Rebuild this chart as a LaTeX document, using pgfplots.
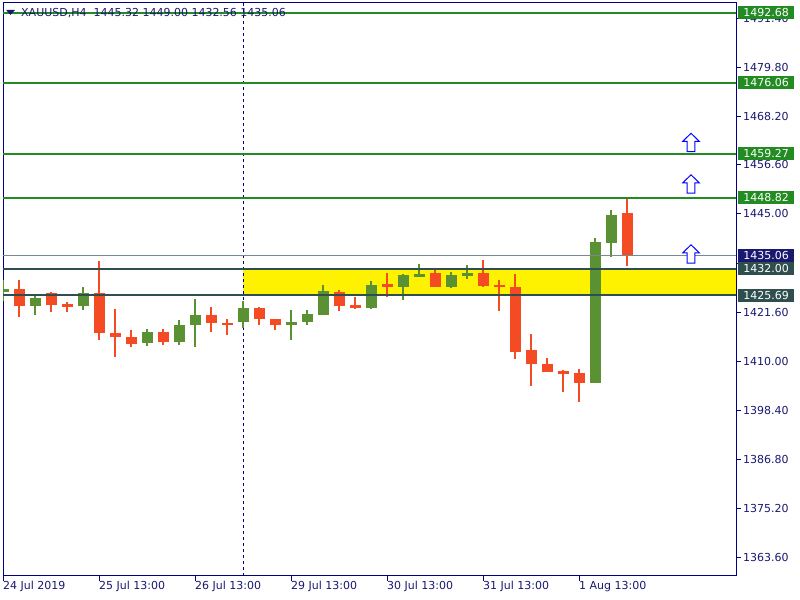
\documentclass[border=0pt]{standalone}
\usepackage{pgfplots}
\pgfplotsset{compat=1.18}
\usepackage{pgfplotstable}
\usepackage{fontspec}
\setmainfont{DejaVu Sans}
\newcommand\fs{\fontsize{11bp}{13bp}\selectfont}
\definecolor{cgreen}{RGB}{90,145,50}
\definecolor{cred}{RGB}{244,75,36}
\definecolor{lgreen}{RGB}{34,139,34}
\definecolor{dslate}{RGB}{47,79,79}
\definecolor{sgray}{RGB}{119,136,153}
\definecolor{mnavy}{RGB}{25,25,112}
\definecolor{fnavy}{RGB}{0,0,128}
\pgfdeclareplotmark{uparr}{%
 \pgfpathmoveto{\pgfqpoint{0pt}{9.2pt}}%
 \pgfpathlineto{\pgfqpoint{8.3pt}{1.2pt}}%
 \pgfpathlineto{\pgfqpoint{3.9pt}{1.2pt}}%
 \pgfpathlineto{\pgfqpoint{3.9pt}{-9.2pt}}%
 \pgfpathlineto{\pgfqpoint{-3.9pt}{-9.2pt}}%
 \pgfpathlineto{\pgfqpoint{-3.9pt}{1.2pt}}%
 \pgfpathlineto{\pgfqpoint{-8.3pt}{1.2pt}}%
 \pgfpathclose
 \pgfusepathqfillstroke}
\pgfplotstableread{
k o h l c
0 1426.38 1429.39 1424.25 1427.26
2 1423.07 1425.83 1421.10 1425.12
5 1423.07 1427.73 1422.28 1426.31
9 1414.31 1417.79 1413.60 1417.08
11 1414.54 1419.92 1413.83 1418.73
12 1418.57 1424.89 1413.36 1421.10
15 1419.28 1424.41 1417.86 1422.76
18 1418.57 1422.28 1415.02 1419.44
19 1419.28 1422.28 1418.57 1421.34
20 1421.10 1428.20 1420.94 1426.78
23 1422.76 1429.15 1422.52 1428.20
25 1427.73 1430.80 1424.65 1430.57
26 1430.33 1433.17 1430.10 1430.57
28 1427.73 1431.28 1427.49 1430.57
29 1430.33 1432.94 1429.62 1431.04
37 1404.84 1439.33 1404.84 1438.38
38 1438.21 1445.95 1434.90 1444.77
}\up
\pgfplotstableread{
k o h l c
1 1427.26 1429.39 1420.46 1423.07
3 1426.14 1426.54 1421.65 1423.30
4 1423.47 1424.01 1421.65 1423.07
6 1426.31 1433.88 1415.18 1416.68
7 1416.84 1422.52 1410.99 1415.73
8 1415.89 1417.55 1413.36 1414.07
10 1417.08 1417.79 1413.83 1414.54
13 1421.10 1422.99 1416.91 1419.04
14 1419.21 1420.15 1416.20 1418.57
16 1422.76 1422.99 1418.57 1419.99
17 1420.15 1420.15 1417.38 1418.57
21 1426.54 1427.02 1422.05 1423.23
22 1423.47 1425.36 1422.52 1422.76
24 1428.44 1431.04 1425.36 1427.73
27 1431.04 1432.00 1427.73 1427.73
30 1431.04 1434.12 1427.73 1427.96
31 1428.20 1429.39 1421.88 1427.73
32 1427.73 1430.80 1410.52 1412.18
33 1412.82 1416.60 1404.13 1409.34
34 1409.50 1410.92 1407.44 1407.44
35 1407.61 1408.08 1402.71 1407.21
36 1407.37 1408.32 1400.34 1404.84
39 1445.32 1449.00 1432.56 1435.06
}\dn
\begin{document}
\begin{tikzpicture}[x=1bp,y=1bp]
\fill[white] (0,0) rectangle (800,600);
\begin{axis}[at={(3bp,24bp)}, anchor=south west, scale only axis,
  width=733bp, height=573bp,
  xmin=0, xmax=45.8125, ymin=1359.16, ymax=1495.0,
  axis line style={fnavy, line width=1bp},
  clip mode=individual,
  xtick={0,6,12,18,24,30,36},
  xticklabels={24 Jul 2019,25 Jul 13:00,26 Jul 13:00,29 Jul 13:00,30 Jul 13:00,31 Jul 13:00,1 Aug 13:00},
  ytick={1363.6,1375.2,1386.8,1398.4,1410,1421.6,1433.2,1445,1456.6,1468.2,1479.8,1491.4},
  yticklabels={1363.60,1375.20,1386.80,1398.40,1410.00,1421.60,{},1445.00,1456.60,1468.20,1479.80,1491.40},
  xtick pos=bottom, ytick pos=right, yticklabel pos=right,
  tick align=outside, major tick length=5bp,
  tick style={fnavy, line width=1bp},
  xticklabel style={anchor=north west, inner sep=0pt, font=\fs, text=mnavy},
  yticklabel style={anchor=west, inner sep=0pt, xshift=2bp, font=\fs, text=mnavy},
]
% yellow zone
\addplot[fill=yellow, draw=none] coordinates {(15,1425.69) (45.8125,1425.69) (45.8125,1432.00) (15,1432.00)} -- cycle;
% vertical dashed line
\addplot[fnavy, line width=1bp, dash pattern=on 3bp off 3bp] coordinates {(15,1359.16) (15,1495)};
% wicks
\addplot[draw=none, mark=none, error bars/.cd, y dir=both, y explicit, error mark=none,
  error bar style={draw=cgreen, line width=1.5bp}]
  table[x=k, y expr={(\thisrow{h}+\thisrow{l})/2}, y error expr={(\thisrow{h}-\thisrow{l})/2}] {\up};
\addplot[draw=none, mark=none, error bars/.cd, y dir=both, y explicit, error mark=none,
  error bar style={draw=cred, line width=1.5bp}]
  table[x=k, y expr={(\thisrow{h}+\thisrow{l})/2}, y error expr={(\thisrow{h}-\thisrow{l})/2}] {\dn};
% bodies
\addplot[draw=none, mark=none, error bars/.cd, y dir=both, y explicit, error mark=none,
  error bar style={draw=cgreen, line width=11bp}]
  table[x=k, y expr={(\thisrow{o}+\thisrow{c})/2}, y error expr={max(abs(\thisrow{o}-\thisrow{c})/2,0.3)}] {\up};
\addplot[draw=none, mark=none, error bars/.cd, y dir=both, y explicit, error mark=none,
  error bar style={draw=cred, line width=11bp}]
  table[x=k, y expr={(\thisrow{o}+\thisrow{c})/2}, y error expr={max(abs(\thisrow{o}-\thisrow{c})/2,0.3)}] {\dn};
% horizontal levels
\addplot[lgreen, line width=2bp] coordinates {(0,1492.68) (45.8125,1492.68)};
\addplot[lgreen, line width=2bp] coordinates {(0,1476.06) (45.8125,1476.06)};
\addplot[lgreen, line width=2bp] coordinates {(0,1459.27) (45.8125,1459.27)};
\addplot[lgreen, line width=2bp] coordinates {(0,1448.82) (45.8125,1448.82)};
\addplot[sgray, line width=1bp] coordinates {(0,1435.06) (45.8125,1435.06)};
\addplot[dslate, line width=2bp] coordinates {(0,1432.00) (45.8125,1432.00)};
\addplot[dslate, line width=2bp] coordinates {(0,1425.69) (45.8125,1425.69)};
% arrows
\addplot[only marks, mark=uparr, mark options={draw=blue, fill=white, line width=1bp}]
  coordinates {(43,1461.93) (43,1452.09) (43,1435.5)};
% title
\fill[mnavy] (axis cs:0.19,1493.35) -- (axis cs:0.75,1493.35) -- (axis cs:0.47,1492.15) -- cycle;
\node[anchor=west, inner sep=0pt, font=\fs, text=mnavy] at (axis cs:1.125,1492.62) {XAUUSD,H4\ \ 1445.32 1449.00 1432.56 1435.06};
\coordinate (b1) at (axis cs:45.8125,1492.68);
\coordinate (b2) at (axis cs:45.8125,1476.06);
\coordinate (b3) at (axis cs:45.8125,1459.27);
\coordinate (b4) at (axis cs:45.8125,1448.82);
\coordinate (b5) at (axis cs:45.8125,1435.06);
\coordinate (b6) at (axis cs:45.8125,1432.00);
\coordinate (b7) at (axis cs:45.8125,1425.69);
\end{axis}
\tikzset{pbox/.style={anchor=west, xshift=2bp, minimum width=56bp, minimum height=13bp, inner sep=0pt, text=white, font=\fs}}
\node[pbox, fill=lgreen] at (b1) {1492.68};
\node[pbox, fill=lgreen] at (b2) {1476.06};
\node[pbox, fill=lgreen] at (b3) {1459.27};
\node[pbox, fill=lgreen] at (b4) {1448.82};
\node[pbox, fill=mnavy] at (b5) {1435.06};
\node[pbox, fill=dslate] at (b6) {1432.00};
\node[pbox, fill=dslate] at (b7) {1425.69};
\pgfresetboundingbox
\path[use as bounding box] (0,0) rectangle (800,600);
\end{tikzpicture}
\end{document}
